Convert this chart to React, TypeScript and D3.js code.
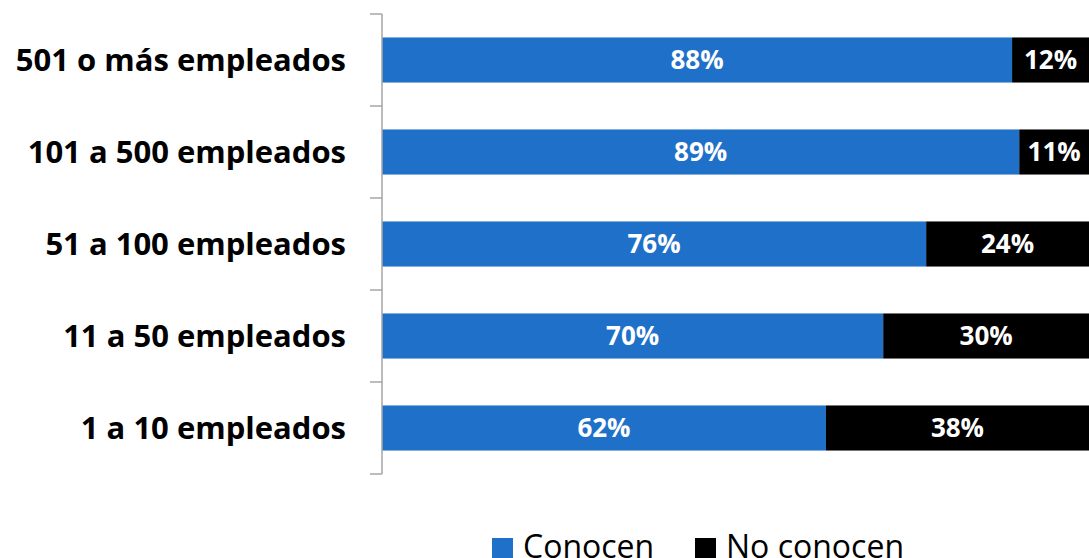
import React, { useEffect, useRef } from 'react';
import * as d3 from 'd3';

const categories = ['501 o más empleados', '101 a 500 empleados', '51 a 100 empleados', '11 a 50 empleados', '1 a 10 empleados'];
const conocen = [88, 89, 76, 70, 62];
const noConocen = [12, 11, 24, 30, 38];
const seriesNames = ['Conocen', 'No conocen'];
const seriesColors = ['#1f70c9', '#000000'];

const WIDTH = 1089;
const HEIGHT = 558;
const FONT = '"Open Sans", Lato, sans-serif';

const App: React.FC = () => {
  const svgRef = useRef<SVGSVGElement>(null);

  useEffect(() => {
    if (!svgRef.current) return;
    const svg = d3.select(svgRef.current);
    svg.selectAll('*').remove();

    const x = d3.scaleLinear().domain([0, 100]).range([382, 1098]);
    const y = d3.scaleBand<string>()
      .domain(categories)
      .range([14, 474])
      .paddingInner(0.51)
      .paddingOuter(0.255);

    const rows = categories.map((c, i) => ({ cat: c, values: [conocen[i], noConocen[i]] }));

    // barras
    rows.forEach(r => {
      let acc = 0;
      r.values.forEach((v, j) => {
        const x0 = acc;
        acc += v;
        svg.append('rect')
          .attr('x', x(x0))
          .attr('y', y(r.cat)!)
          .attr('width', x(acc) - x(x0))
          .attr('height', y.bandwidth())
          .attr('fill', seriesColors[j]);
        svg.append('text')
          .attr('x', (x(x0) + Math.min(x(acc), WIDTH)) / 2)
          .attr('y', y(r.cat)! + y.bandwidth() / 2)
          .attr('dy', '0.36em')
          .attr('text-anchor', 'middle')
          .attr('fill', '#ffffff')
          .style('font-family', FONT)
          .style('font-weight', 'bold')
          .style('font-size', '26px')
          .text(`${v}%`);
      });
    });

    // eje
    const axisColor = '#a6a6a6';
    const [r0, r1] = y.range();
    svg.append('line')
      .attr('x1', 382).attr('x2', 382)
      .attr('y1', r0).attr('y2', r1)
      .attr('stroke', axisColor).attr('stroke-width', 1.5);
    d3.range(categories.length + 1).forEach(i => {
      const ty = r0 + i * y.step();
      svg.append('line')
        .attr('x1', 370).attr('x2', 382)
        .attr('y1', ty).attr('y2', ty)
        .attr('stroke', axisColor).attr('stroke-width', 1.5);
    });

    // etiquetas
    categories.forEach(c => {
      svg.append('text')
        .attr('x', 346)
        .attr('y', y(c)! + y.bandwidth() / 2)
        .attr('dy', '0.36em')
        .attr('text-anchor', 'end')
        .attr('fill', '#000000')
        .style('font-family', FONT)
        .style('font-weight', 'bold')
        .style('font-size', '31px')
        .text(c);
    });

    // leyenda
    const legendX = [492, 695];
    seriesNames.forEach((name, i) => {
      svg.append('rect')
        .attr('x', legendX[i]).attr('y', 538)
        .attr('width', 21).attr('height', 21)
        .attr('fill', seriesColors[i]);
      svg.append('text')
        .attr('x', legendX[i] + 31)
        .attr('y', 558)
        .attr('fill', '#000000')
        .style('font-family', FONT)
        .style('font-size', '32px')
        .text(name);
    });
  }, []);

  return (
    <div style={{ position: 'fixed', left: 0, top: 0, width: WIDTH, height: HEIGHT, overflow: 'hidden', background: '#fff' }}>
      <svg ref={svgRef} width={WIDTH} height={HEIGHT} style={{ display: 'block' }} />
    </div>
  );
};

export default App;
